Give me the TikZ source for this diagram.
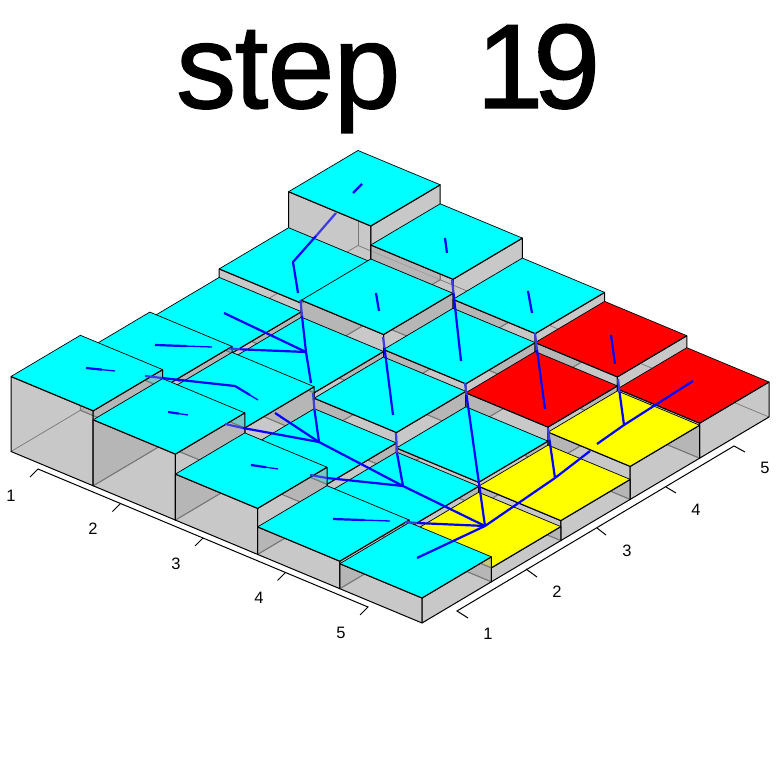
\documentclass[tikz,border=0pt]{standalone}
\usepackage{fontspec}
\setmainfont{Liberation Sans}
\newfontfamily\titlefont[FakeBold=1.2]{Liberation Sans}
\definecolor{wallgray}{RGB}{175,175,175}
\definecolor{bluedim}{RGB}{60,60,225}
\definecolor{topcyan}{RGB}{0,255,255}
\definecolor{topyellow}{RGB}{255,255,0}
\definecolor{topred}{RGB}{255,0,0}
\definecolor{flowblue}{RGB}{0,0,255}
\newcommand{\PP}[3]{({422-82.2*(#1)+69.4*(#2)},{623-34.3*(#1)-41.2*(#2)-(#3)})}
\tikzset{
  wallface/.style={fill=wallgray,fill opacity=0.686,draw=black,draw opacity=1,line width=1pt,line join=round},
  backedge/.style={draw=black,line width=0.7pt},
  frontedge/.style={draw=black,line width=1.1pt},
  flow/.style={draw=flowblue,line width=2.2pt,line join=round},
  flowdim/.style={draw=bluedim,line width=2.2pt},
  flowthin/.style={draw=flowblue,line width=1.3pt},
  axisline/.style={draw=black,line width=1pt},
  ticklabel/.style={font=\fontsize{16.5}{18}\selectfont,inner sep=0pt,text=black},
  titletext/.style={font=\titlefont\fontsize{120}{120}\selectfont,inner sep=0pt,anchor=base west,text=black}
}
\newcommand{\taperline}[4]{%
  \draw[flow] (#1,#2) -- ({#1+0.55*(#3-#1)},{#2+0.55*(#4-#2)});
  \draw[flowthin] ({#1+0.5*(#3-#1)},{#2+0.5*(#4-#2)}) -- (#3,#4);}
\begin{document}
\begin{tikzpicture}[x=1pt,y=-1pt]
\useasboundingbox (0,0) rectangle (780,770);
\fill[white] (0,0) rectangle (780,770);
\node[titletext] (title) at (176,108) {s\kern-0.012em t\kern-0.005em e\kern-0.005em p\hspace{0.635em}1\kern-0.083em 9};
% cells, painted from back to front
\foreach \a/\b/\h/\c in {
  4/4/95/topcyan,
  4/3/59/topcyan, 3/4/76/topcyan,
  4/2/50.5/topcyan, 3/3/62/topcyan, 2/4/56/topcyan,
  4/1/57/topcyan, 3/2/45/topcyan, 2/3/47/topcyan, 1/4/47/topred,
  4/0/75/topcyan, 3/1/51/topcyan, 2/2/39.5/topcyan, 1/3/38/topred, 0/4/35/topred,
  3/0/66/topcyan, 2/1/29/topcyan, 1/2/24/topcyan, 0/3/33/topyellow,
  2/0/46/topcyan, 1/1/20/topcyan, 0/2/20/topyellow,
  1/0/27.5/topcyan, 0/1/14/topyellow,
  0/0/25/topcyan}{
  \pgfmathsetmacro{\aa}{\a+1}
  \pgfmathsetmacro{\bb}{\b+1}
  % hidden edges at the base and the back corner
  \draw[backedge] \PP{\aa}{\b}{0} -- \PP{\aa}{\bb}{0} -- \PP{\a}{\bb}{0};
  \draw[backedge] \PP{\aa}{\bb}{0} -- \PP{\aa}{\bb}{\h};
  % front walls
  \path[wallface] \PP{\aa}{\b}{\h} -- \PP{\a}{\b}{\h} -- \PP{\a}{\b}{0} -- \PP{\aa}{\b}{0} -- cycle;
  \path[wallface] \PP{\a}{\b}{\h} -- \PP{\a}{\bb}{\h} -- \PP{\a}{\bb}{0} -- \PP{\a}{\b}{0} -- cycle;
  % top
  \fill[\c] \PP{\a}{\b}{\h} -- \PP{\aa}{\b}{\h} -- \PP{\aa}{\bb}{\h} -- \PP{\a}{\bb}{\h} -- cycle;
  \draw[backedge] \PP{\aa}{\b}{\h} -- \PP{\aa}{\bb}{\h} -- \PP{\a}{\bb}{\h};
  \draw[frontedge] \PP{\aa}{\b}{\h} -- \PP{\a}{\b}{\h} -- \PP{\a}{\bb}{\h};
}
% flow lines
\draw[flow] (362,184) -- (353,193);
\draw[flowdim] (336,213) -- (316,236);
\draw[flow] (316,236) -- (293,262) -- (298,293);
\draw[flowdim] (300.5,300) -- (302,316);
\draw[flow] (302,316) -- (306,352) -- (311,383);
\draw[flow] (224,313) -- (306,352);
\taperline{155}{345}{212}{347}
\draw[flowdim] (229,348.5) -- (240,349.3);
\draw[flow] (240,349.3) -- (306,352);
\taperline{86}{368}{115}{371}
\draw[flowdim] (145,376) -- (162,378);
\draw[flow] (162,378) -- (235,386);
\draw[flow] (235,386) -- (250,395);
\draw[flowthin] (249,394.5) -- (258,400);
\taperline{168}{412}{188}{415}
\draw[flowdim] (225,424) -- (243,428);
\draw[flow] (243,428) -- (319,442);
\draw[flow] (275,413) -- (319,442);
\draw[flowdim] (313,393) -- (314.5,410);
\draw[flow] (314.5,410) -- (319,442) -- (403,486) -- (485,526);
\taperline{251}{465}{278}{469}
\draw[flowdim] (310,475) -- (327,478);
\draw[flow] (327,478) -- (403,486);
\taperline{333}{519}{390}{521}
\draw[flowdim] (405,522) -- (417,523);
\draw[flow] (417,523) -- (485,526);
\draw[flow] (417,558) -- (485,526) -- (555,478) -- (590,451);
\draw[flow] (597,444) -- (624,425) -- (693,381);
\draw[flow] (376,293) -- (379,311);
\draw[flowdim] (383,337) -- (384.5,348);
\draw[flow] (384.5,348) -- (393,415);
\draw[flowdim] (396,433) -- (397,453);
\draw[flow] (397,453) -- (403,486);
\draw[flow] (445,238) -- (447,253);
\draw[flowdim] (452,280) -- (453.5,293);
\draw[flow] (453.5,293) -- (461,361);
\draw[flowdim] (465,383) -- (466.5,395);
\draw[flow] (466.5,395) -- (485,526);
\draw[flow] (528,291) -- (532,313);
\draw[flowdim] (535,333) -- (537,350);
\draw[flow] (537,350) -- (545,409);
\draw[flowdim] (548,428) -- (549.5,440);
\draw[flow] (549.5,440) -- (555,478);
\draw[flow] (611,335) -- (615,364);
\draw[flowdim] (618,379) -- (619.5,392);
\draw[flow] (619.5,392) -- (624,425);
% left axis
\draw[axisline] (30,477) -- (38,469) -- (368,607) -- (360,615);
\draw[axisline] (120.5,503.5) -- (112.5,511.5);
\draw[axisline] (203,538) -- (195,546);
\draw[axisline] (285.5,572.5) -- (277.5,580.5);
\node[ticklabel] (l1) at (11,496) {1};
\node[ticklabel] (l2) at (93,529) {2};
\node[ticklabel] (l3) at (176,564) {3};
\node[ticklabel] (l4) at (259,598) {4};
\node[ticklabel] (l5) at (341,633) {5};
% right axis
\draw[axisline] (468,618) -- (457,611) -- (734,446) -- (745,452);
\draw[axisline] (526,569) -- (537,577);
\draw[axisline] (597,528) -- (606,535);
\draw[axisline] (666,487) -- (676,493);
\node[ticklabel] (r1) at (488,634) {1};
\node[ticklabel] (r2) at (557,592) {2};
\node[ticklabel] (r3) at (627,551) {3};
\node[ticklabel] (r4) at (696,510) {4};
\node[ticklabel] (r5) at (765,468) {5};
\end{tikzpicture}
\end{document}
